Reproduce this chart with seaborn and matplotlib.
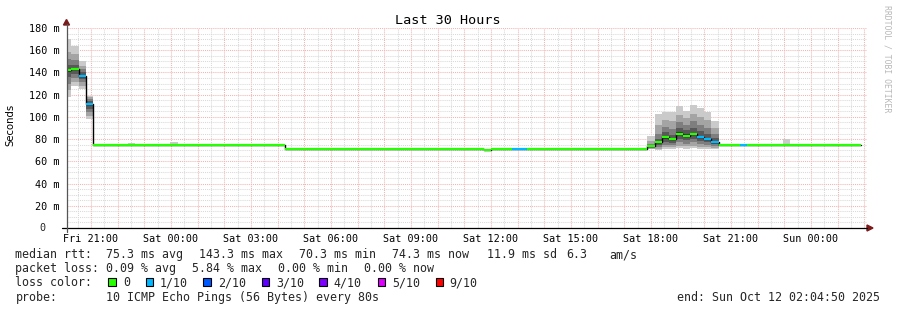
import numpy as np
import pandas as pd
import matplotlib
matplotlib.use("Agg")
import matplotlib.pyplot as plt
import matplotlib.dates as mdates
from matplotlib.patches import Rectangle, Polygon
from matplotlib.lines import Line2D
import seaborn as sns

# ------------------------------------------------------------------ data
range_start = "2025-10-10 20:04:50"
range_end = "2025-10-12 02:04:50"

# median RTT (ms) as consolidated steps: start of each step, value, loss level
med_start = ["2025-10-10 20:00", "2025-10-10 20:16", "2025-10-10 20:32", "2025-10-10 20:48",
             "2025-10-10 21:04", "2025-10-11 04:16", "2025-10-11 11:44", "2025-10-11 12:00",
             "2025-10-11 12:48", "2025-10-11 13:20", "2025-10-11 17:52", "2025-10-11 18:08",
             "2025-10-11 18:24", "2025-10-11 18:40", "2025-10-11 18:56", "2025-10-11 19:12",
             "2025-10-11 19:28", "2025-10-11 19:44", "2025-10-11 20:00", "2025-10-11 20:16",
             "2025-10-11 20:32", "2025-10-11 21:20", "2025-10-11 21:36"]
med_last_end = "2025-10-12 01:52"
med_ms = [142.0, 143.3, 137.0, 111.6, 74.4, 70.8, 70.3, 70.8, 70.8, 70.8, 73.5, 77.1,
          81.6, 79.8, 84.9, 83.1, 84.9, 81.9, 80.4, 77.7, 74.3, 74.3, 74.3]
med_loss = [0, 0, 1, 1, 0, 0, 0, 0, 1, 0, 0, 0, 0, 0, 0, 0, 0, 1, 1, 1, 0, 1, 0]

# smoke: the 10 sorted ping times (ms) of each step that shows visible smoke
smoke_start = ["2025-10-10 20:00", "2025-10-10 20:16", "2025-10-10 20:32", "2025-10-10 20:48",
               "2025-10-10 22:08", "2025-10-10 22:24", "2025-10-10 23:58",
               "2025-10-11 07:44", "2025-10-11 09:52",
               "2025-10-11 17:52", "2025-10-11 18:08", "2025-10-11 18:24", "2025-10-11 18:40",
               "2025-10-11 18:56", "2025-10-11 19:12", "2025-10-11 19:28", "2025-10-11 19:44",
               "2025-10-11 20:00", "2025-10-11 20:16", "2025-10-11 22:56"]
smoke_end = ["2025-10-10 20:16", "2025-10-10 20:32", "2025-10-10 20:48", "2025-10-10 21:04",
             "2025-10-10 22:24", "2025-10-10 22:40", "2025-10-11 00:16",
             "2025-10-11 08:00", "2025-10-11 10:08",
             "2025-10-11 18:08", "2025-10-11 18:24", "2025-10-11 18:40", "2025-10-11 18:56",
             "2025-10-11 19:12", "2025-10-11 19:28", "2025-10-11 19:44", "2025-10-11 20:00",
             "2025-10-11 20:16", "2025-10-11 20:32", "2025-10-11 23:12"]
smoke_pings = [
    [118, 124, 130, 136, 140.5, 143, 147, 152, 158, 170],
    [128, 131, 135, 139, 142.5, 144, 147, 151, 157, 164],
    [125, 128, 131, 134, 136.5, 137.5, 140, 143, 146, 150],
    [98, 101, 104, 107, 110.5, 112.5, 114, 116, 117.5, 119],
    [74.2, 74.3, 74.3, 74.4, 74.4, 74.4, 74.5, 74.5, 74.6, 75.6],
    [74.2, 74.3, 74.3, 74.4, 74.4, 74.4, 74.5, 74.6, 75.6, 76.6],
    [74.2, 74.3, 74.3, 74.4, 74.4, 74.4, 74.5, 74.5, 74.6, 77.7],
    [70.6, 70.7, 70.7, 70.8, 70.8, 70.8, 70.9, 70.9, 71.0, 72.4],
    [70.6, 70.7, 70.7, 70.8, 70.8, 70.8, 70.9, 70.9, 71.0, 72.4],
    [70.8, 71.5, 72.0, 72.8, 73.3, 73.8, 74.5, 76.0, 78.5, 82.8],
    [70.2, 71.5, 73.0, 74.5, 76.3, 77.8, 80.0, 85.0, 93.0, 103.0],
    [71.0, 73.0, 75.0, 77.5, 80.5, 82.7, 86.0, 91.0, 97.0, 104.4],
    [71.0, 72.5, 74.5, 76.5, 78.8, 80.8, 84.0, 89.0, 96.0, 104.0],
    [72.0, 74.0, 77.0, 80.0, 83.8, 86.0, 90.0, 95.0, 102.0, 109.8],
    [71.5, 73.5, 76.0, 79.0, 82.0, 84.2, 88.0, 93.0, 99.0, 105.6],
    [72.0, 74.0, 77.0, 80.5, 84.0, 85.8, 90.0, 96.0, 103.0, 110.7],
    [71.0, 73.0, 75.5, 78.0, 81.0, 82.8, 87.0, 93.0, 100.0, 107.7],
    [71.0, 72.5, 75.0, 77.5, 79.5, 81.3, 85.0, 90.0, 97.0, 104.4],
    [71.0, 72.0, 73.5, 75.5, 77.0, 78.4, 81.0, 85.0, 90.0, 96.3],
    [74.1, 74.2, 74.2, 74.3, 74.3, 74.3, 74.4, 74.4, 74.5, 80.1],
]

loss_levels = ["0", "1/10", "2/10", "3/10", "4/10", "5/10", "9/10"]
loss_colors = ["#26ff00", "#00b8ff", "#0059ff", "#5e00ff", "#7e00ff", "#dd00ff", "#ff0000"]
smoke_shades = ["#cacaca", "#a4a4a4", "#7e7e7e", "#585858", "#323232"]

y_ticks = [20, 40, 60, 80, 100, 120, 140, 160, 180]

title = "Last 30 Hours"
y_label = "Seconds"
legend_line1 = [(16, "median rtt:"), (107, "75.3 ms avg"), (200, "143.3 ms max"),
                (300, "70.3 ms min"), (393, "74.3 ms now"), (488, "11.9 ms sd"),
                (567, "6.3"), (610, "am/s")]
legend_line2 = [(16, "packet loss:"), (107, "0.09 % avg"), (193, "5.84 % max"),
                (279, "0.00 % min"), (365, "0.00 % now")]
legend_line4 = [(16, "probe:"), (107, "10 ICMP Echo Pings (56 Bytes) every 80s")]
end_text = "end: Sun Oct 12 02:04:50 2025"
watermark = "RRDTOOL / TOBI OETIKER"

# ------------------------------------------------------------------ style
sns.set_theme(style="white")
MONO = ["DejaVu Sans Mono"]
plt.rcParams["font.family"] = ["DejaVu Sans Mono", "DejaVu Sans"]

W, H = 897, 310
fig = plt.figure(figsize=(W / 100, H / 100), dpi=100)
fig.patch.set_facecolor("white")


def fx(x):
    return x / W


def fy(y):
    return 1 - y / H


ax = fig.add_axes([fx(66.5), fy(228), 800 / W, 200 / H])
ax.set_facecolor("white")

t0 = pd.Timestamp(range_start)
t1 = pd.Timestamp(range_end)
ax.set_xlim(mdates.date2num(t0), mdates.date2num(t1))
ax.set_ylim(0, 180)

# grid
GRID = "#d9d9d9"
MGRID = "#f4b4b4"
dot = (0, (1, 1))
hh = pd.date_range("2025-10-10 20:30", "2025-10-12 02:00", freq="30min")
for t in hh:
    major = t.minute == 0
    ax.axvline(mdates.date2num(t), color=MGRID if major else GRID, lw=0.75,
               ls=dot, zorder=0.5)
for v in range(5, 181, 5):
    major = v % 20 == 0
    ax.axhline(v, color=MGRID if major else GRID, lw=0.75, ls=dot, zorder=0.5)

# smoke
for s, e, p in zip(smoke_start, smoke_end, smoke_pings):
    p = sorted(p)
    xs = [mdates.date2num(pd.Timestamp(s)), mdates.date2num(pd.Timestamp(e))]
    for i in range(5):
        ax.fill_between(xs, p[i], p[9 - i], color=smoke_shades[i], lw=0,
                        antialiased=False, zorder=2)

# median step line
times = [pd.Timestamp(t) for t in med_start] + [pd.Timestamp(med_last_end)]
df = pd.DataFrame({"time": times, "ms": med_ms + [med_ms[-1]]})
sns.lineplot(data=df, x="time", y="ms", drawstyle="steps-post", estimator=None,
             color="black", linewidth=1.0, ax=ax, zorder=3)

# loss-coloured median bars
starts = [mdates.date2num(t) for t in times[:-1]]
ends = [mdates.date2num(t) for t in times[1:]]
ax.hlines(med_ms, starts, ends, colors=[loss_colors[l] for l in med_loss],
          lw=1.6, zorder=4)

# axes cosmetics
for sp in ax.spines.values():
    sp.set_visible(False)
ax.set_xlabel("")
ax.set_ylabel("")
ax.xaxis.set_major_locator(mdates.HourLocator(byhour=[0, 3, 6, 9, 12, 15, 18, 21]))
ax.xaxis.set_major_formatter(mdates.DateFormatter("%a %H:%M"))
ax.xaxis.set_minor_locator(mdates.MinuteLocator(byminute=[0, 30]))
ax.set_yticks(y_ticks)
ax.set_yticklabels([f"{v} m" for v in y_ticks])
ax.set_yticks(np.arange(0, 181, 5), minor=True)
ax.tick_params(axis="both", which="both", labelsize=7.3, colors="#000000",
               direction="out", width=0.7)
ax.tick_params(axis="x", which="major", length=2, pad=2.6)
ax.tick_params(axis="x", which="minor", length=1.5)
ax.tick_params(axis="y", which="major", length=2, pad=3.2)
ax.tick_params(axis="y", which="minor", length=1.5)
for lab in ax.get_xticklabels() + ax.get_yticklabels():
    lab.set_family(MONO)
ax.tick_params(axis="both", which="both", color="#707070")
ax.text(-0.0265, 0, "0", transform=ax.get_yaxis_transform(), ha="right",
        va="center", fontsize=7.3, family=MONO)

# axis lines and arrows (figure pixel coordinates)
fig.add_artist(Line2D([fx(62), fx(867)], [fy(228), fy(228)], color="black", lw=0.9))
fig.add_artist(Line2D([fx(66.5), fx(66.5)], [fy(232), fy(24)], color="#555555", lw=0.9))
ARROW = "#7a1a1a"
fig.add_artist(Polygon([[fx(63.5), fy(25)], [fx(69.5), fy(25)], [fx(66.5), fy(19.5)]],
                       closed=True, color=ARROW, transform=fig.transFigure))
fig.add_artist(Polygon([[fx(867), fy(225)], [fx(867), fy(231)], [fx(873), fy(228)]],
                       closed=True, color=ARROW, transform=fig.transFigure))

# titles
fig.text(fx(448), fy(23.5), title, ha="center", va="baseline", fontsize=9.7,
         family=MONO, color="black")
fig.text(fx(10.5), fy(125), y_label, rotation=90, ha="center", va="center",
         fontsize=7.3, family=["DejaVu Sans"], color="black")
fig.text(fx(887), fy(59), watermark, rotation=270, ha="center", va="center",
         fontsize=5.9, family=MONO, color="#b8b8b8")

# legend block
LF = 8.4
for x, s in legend_line1:
    fig.text(fx(x - 0.6), fy(258), s, ha="left", va="baseline", fontsize=LF, family=MONO)
for x, s in legend_line2:
    fig.text(fx(x - 0.6), fy(272.2), s, ha="left", va="baseline", fontsize=LF, family=MONO)
fig.text(fx(16 - 0.6), fy(286.4), "loss color:", ha="left", va="baseline", fontsize=LF,
         family=MONO)
box_x = [108.3, 146, 203.3, 261.7, 319.3, 377.7, 436]
lab_x = [124, 160.7, 218.7, 276.7, 334.3, 392.7, 450]
for bx, lx, lvl, col in zip(box_x, lab_x, loss_levels, loss_colors):
    fig.add_artist(Rectangle((fx(bx), fy(285.7)), 7.4 / W, 7.4 / H, facecolor=col,
                             edgecolor="black", lw=0.8, transform=fig.transFigure))
    fig.text(fx(lx - 0.6), fy(286.4), lvl, ha="left", va="baseline", fontsize=LF,
             family=MONO)
for x, s in legend_line4:
    fig.text(fx(x - 0.6), fy(300.6), s, ha="left", va="baseline", fontsize=LF, family=MONO)
fig.text(fx(879.5), fy(300.6), end_text, ha="right", va="baseline", fontsize=LF,
         family=MONO)

fig.savefig("out.png", dpi=100, facecolor="white")
